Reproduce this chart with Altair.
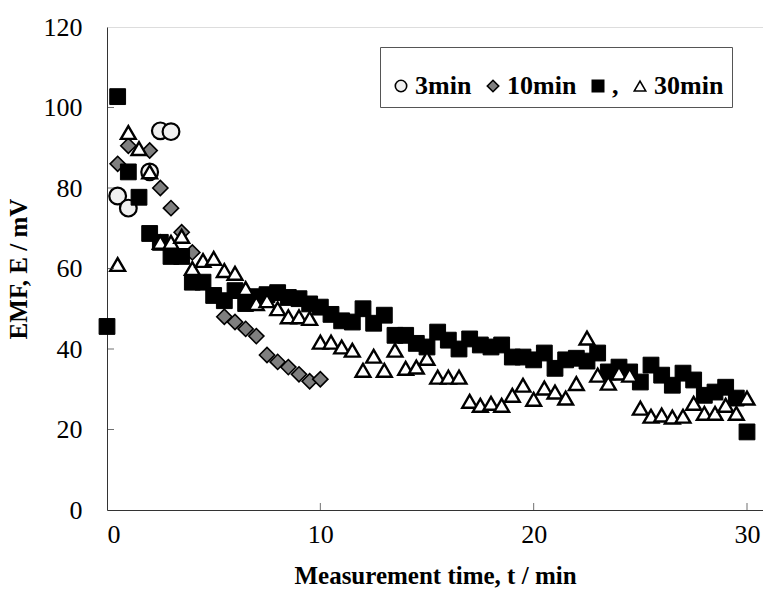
import altair as alt
import pandas as pd

# ---- data ----
t_3min = [0.5, 1, 2, 2.5, 3]
e_3min = [78, 75, 84, 94.2, 94]

t_10min = [0.5, 1, 2, 2.5, 3, 3.5, 4, 5.5, 6, 6.5, 7, 7.5, 8, 8.5, 9, 9.5, 10]
e_10min = [86, 90.5, 89.3, 80, 75, 69, 64, 48, 46.7, 45, 43.2, 38.5, 36.8, 35.5, 33.7, 32, 32.5]

t_sq = [0, 0.5, 1, 1.5, 2, 2.5, 3, 3.5, 4, 4.5, 5, 5.5, 6, 6.5, 7, 7.5, 8, 8.5, 9, 9.5,
        10, 10.5, 11, 11.5, 12, 12.5, 13, 13.5, 14, 14.5, 15, 15.5, 16, 16.5, 17, 17.5,
        18, 18.5, 19, 19.5, 20, 20.5, 21, 21.5, 22, 22.5, 23, 23.5, 24, 24.5, 25, 25.5,
        26, 26.5, 27, 27.5, 28, 28.5, 29, 29.5, 30]
e_sq = [45.6, 102.7, 84, 77.7, 68.7, 66.5, 63, 63, 56.6, 56.6, 53.3, 52, 54.5, 51.3, 53,
        53.5, 54, 52.8, 52.5, 51.2, 50.4, 48.6, 47, 46.7, 50, 46.4, 48.4, 43.4, 43.4, 41.4,
        40.5, 44.2, 42.2, 40, 42.5, 41, 40.5, 41, 38, 38, 37.3, 39, 35.2, 37.3, 37.7, 37,
        39, 34.3, 35.5, 34.3, 31.8, 36, 33.5, 31, 34, 32.3, 28.5, 29.3, 30.5, 27.8, 19.4]

t_30min = [0.5, 1, 1.5, 2, 2.5, 3, 3.5, 4, 4.5, 5, 5.5, 6, 6.5, 7, 7.5, 8, 8.5, 9, 9.5,
           10, 10.5, 11, 11.5, 12, 12.5, 13, 13.5, 14, 14.5, 15, 15.5, 16, 16.5, 17, 17.5,
           18, 18.5, 19, 19.5, 20, 20.5, 21, 21.5, 22, 22.5, 23, 23.5, 24, 24.5, 25, 25.5,
           26, 26.5, 27, 27.5, 28, 28.5, 29, 29.5, 30]
e_30min = [61, 93.8, 89.8, 84, 66.5, 66.5, 68, 60, 62, 62.5, 59.5, 58.8, 55, 51.3, 52, 50,
           48, 48, 47.6, 41.7, 41.7, 40.5, 39.7, 34.7, 38.2, 34.7, 39.7, 35.2, 35.5, 37.7,
           33, 33, 33, 27, 26, 26.5, 26, 28.5, 31, 27.5, 30.3, 29.3, 27.8, 31.4, 42.7, 33.5,
           31.5, 34, 33.5, 25.3, 23.3, 23.6, 23.1, 23.3, 26.5, 24, 24, 26, 24, 27.8]

series_names = ["3min", "10min", ",", "30min"]
x_ticks = [10, 20, 30]
y_ticks = [20, 40, 60, 80, 100]
x_labels = [0, 10, 20, 30]
y_labels = [0, 20, 40, 60, 80, 100, 120]

# ---- styles ----
shapes = ["circle", "diamond", "square", "triangle-up"]
fills = ["#f0f0f0", "#7f7f7f", "#000000", "#ffffff"]
sizes = [280, 230, 250, 220]
stroke_ws = [2.2, 1.6, 1, 2.4]

W, H = 656, 483
FONT = "Liberation Serif"

x_scale = alt.Scale(domain=[0, 30.75], nice=False, zero=False)
y_scale = alt.Scale(domain=[0, 120], nice=False)
shape_scale = alt.Scale(domain=series_names, range=shapes)
fill_scale = alt.Scale(domain=series_names, range=fills)
stroke_scale = alt.Scale(domain=series_names, range=["black"] * 4)

legend = alt.Legend(
    title=" ", titleFontSize=14, titlePadding=4, titleOrient="top",
    orient="none", legendX=273, legendY=20, direction="horizontal",
    columns=4, symbolSize=130, symbolStrokeWidth=1.6, symbolStrokeColor="black",
    labelFont=FONT, labelFontSize=26, labelFontWeight="bold", labelColor="black",
    labelOffset=1, columnPadding=8, padding=8, strokeColor="#555555",
    fillColor="white", symbolOpacity=1,
)

x_axis = alt.Axis(values=x_labels, title="Measurement time, t / min", ticks=False,
                  grid=False, labelFont=FONT, labelFontSize=26, labelColor="black",
                  labelPadding=11, titleFont=FONT, titleFontSize=25,
                  titleFontWeight="bold", titleColor="black", titlePadding=16,
                  domainColor="#333333")
y_axis = alt.Axis(values=y_labels, title="EMF, E / mV", ticks=False, grid=False,
                  labelFont=FONT, labelFontSize=26, labelColor="black",
                  labelPadding=25, titleFont=FONT, titleFontSize=25,
                  titleFontWeight="bold", titleColor="black", titlePadding=12,
                  domainColor="#333333")

layers = []
data_sets = [(t_3min, e_3min), (t_10min, e_10min), (t_sq, e_sq), (t_30min, e_30min)]
for i, (ts, es) in enumerate(data_sets):
    df = pd.DataFrame({"t": ts, "E": es, "series": series_names[i]})
    layer = alt.Chart(df).mark_point(
        filled=True, strokeWidth=stroke_ws[i], size=sizes[i], opacity=1
    ).encode(
        x=alt.X("t:Q", scale=x_scale, axis=x_axis),
        y=alt.Y("E:Q", scale=y_scale, axis=y_axis),
        shape=alt.Shape("series:N", scale=shape_scale, legend=legend),
        fill=alt.Fill("series:N", scale=fill_scale, legend=legend),
        stroke=alt.Stroke("series:N", scale=stroke_scale, legend=legend),
    )
    layers.append(layer)

# inward-pointing tick marks on both axes
xt = alt.Chart(pd.DataFrame({"v": x_ticks})).mark_tick(
    orient="vertical", size=7, thickness=1, color="#333333", yOffset=-3.5
).encode(x=alt.X("v:Q", scale=x_scale, axis=x_axis),
         y=alt.datum(0, scale=y_scale, axis=y_axis))
yt = alt.Chart(pd.DataFrame({"v": y_ticks})).mark_tick(
    orient="horizontal", size=7, thickness=1, color="#333333", xOffset=3.5
).encode(y=alt.Y("v:Q", scale=y_scale, axis=y_axis),
         x=alt.datum(0, scale=x_scale, axis=x_axis))

chart = alt.layer(*layers, xt, yt).properties(
    width=W, height=H,
    padding={"left": 107, "top": 27, "right": 0, "bottom": 80},
    autosize=alt.AutoSizeParams(type="none"),
).configure_view(stroke="#333333", strokeWidth=1).configure(background="white")

chart.save("out.html", embed_options={"renderer": "svg", "actions": False})
